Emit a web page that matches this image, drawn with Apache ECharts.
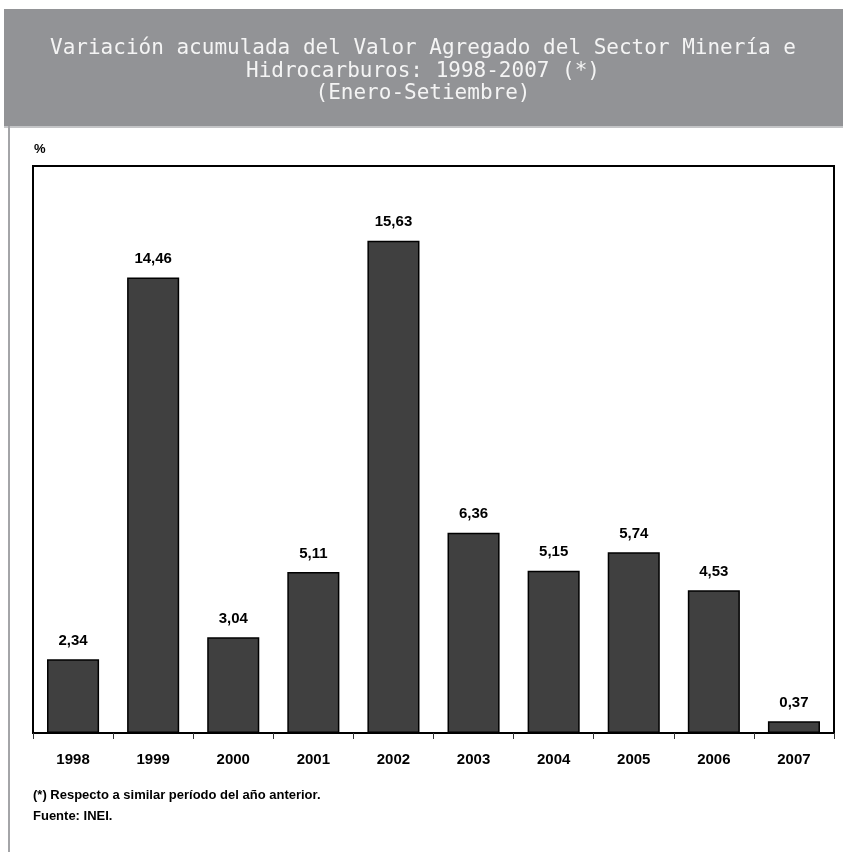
<!DOCTYPE html>
<html>
<head>
<meta charset="utf-8">
<script src="https://cdn.jsdelivr.net/npm/echarts@6/dist/echarts.min.js"></script>
<style>
  html, body { margin: 0; padding: 0; background: #fff; }
  #chart { width: 843px; height: 852px; }
</style>
</head>
<body>
<div id="chart"></div>
<script>
// data
const years = ['1998', '1999', '2000', '2001', '2002', '2003', '2004', '2005', '2006', '2007']
const variacion = [2.34, 14.46, 3.04, 5.11, 15.63, 6.36, 5.15, 5.74, 4.53, 0.37]
const titleLines = [
    'Variación acumulada del Valor Agregado del Sector Minería e',
    'Hidrocarburos: 1998-2007 (*)',
    '(Enero-Setiembre)'
]
const notes = ['(*) Respecto a similar período del año anterior.', 'Fuente: INEI.']

const narrow = '"Liberation Sans Narrow", "Arial Narrow", "Liberation Sans", sans-serif'

const chart = echarts.init(document.getElementById('chart'))

// header is tracked out wide in the original, a monospaced face gets close
const headerText = titleLines.map((t, i) => ({
    type: 'text',
    x: 423,
    y: 49 + i * 22.5,
    style: {
        text: t,
        fill: '#f4f4f4',
        align: 'center',
        verticalAlign: 'middle',
        font: '21px "DejaVu Sans Mono", monospace'
    }
}))

chart.setOption({
    animation: false,
    grid: {
        left: 33,
        right: 9,
        top: 166,
        bottom: 119,
        show: true,
        borderColor: '#000',
        borderWidth: 2
    },
    xAxis: {
        type: 'category',
        data: years,
        axisLine: { lineStyle: { color: '#000', width: 2 } },
        axisTick: { show: true, length: 6, interval: 0, lineStyle: { color: '#333', width: 1 } },
        axisLabel: {
            margin: 19,
            color: '#000',
            fontFamily: narrow,
            fontWeight: 'bold',
            fontSize: 15
        }
    },
    yAxis: {
        type: 'value',
        min: 0,
        max: 18,
        show: false,
        splitLine: { show: false }
    },
    series: [{
        type: 'bar',
        data: variacion,
        barCategoryGap: '35%',
        itemStyle: { color: '#404040', borderColor: '#000', borderWidth: 1.5 },
        label: {
            show: true,
            position: 'top',
            distance: 11,
            color: '#000',
            fontFamily: narrow,
            fontWeight: 'bold',
            fontSize: 15,
            formatter: p => p.value.toFixed(2).replace('.', ',')
        }
    }],
    graphic: [
        { type: 'rect', shape: { x: 4, y: 9, width: 839, height: 117 }, style: { fill: '#929396' } },
        { type: 'rect', shape: { x: 4, y: 126, width: 839, height: 2 }, style: { fill: '#c4c5c7' } },
        { type: 'rect', shape: { x: 8, y: 126, width: 2, height: 726 }, style: { fill: '#a4a5a8' } },
        ...headerText,
        {
            type: 'text', left: 34, top: 143,
            style: { text: '%', fill: '#000', font: 'bold 13px ' + narrow }
        },
        {
            type: 'text', left: 33, top: 789,
            style: { text: notes[0], fill: '#000', font: 'bold 13px ' + narrow }
        },
        {
            type: 'text', left: 33, top: 810,
            style: { text: notes[1], fill: '#000', font: 'bold 13px ' + narrow }
        }
    ]
})
</script>
</body>
</html>
